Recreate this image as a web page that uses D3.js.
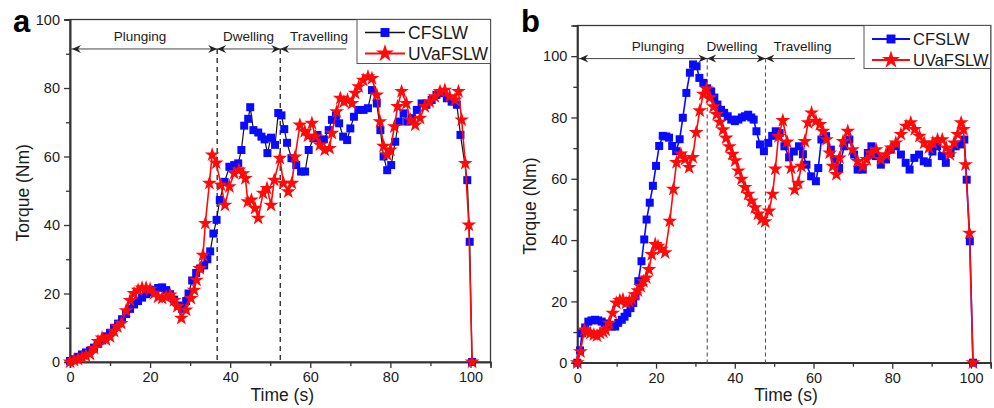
<!DOCTYPE html>
<html>
<head>
<meta charset="utf-8">
<script src="https://cdn.jsdelivr.net/npm/d3@7"></script>
<style>
  html, body { margin: 0; padding: 0; background: #fff; }
  svg { display: block; font-family: "Liberation Sans", Arial, sans-serif; }
</style>
</head>
<body>
<svg id="chart" width="994" height="408"></svg>
<script>
// ---------------- DATA ----------------
const seriesNames = ["CFSLW", "UVaFSLW"];
const phaseLabels = ["Plunging", "Dwelling", "Travelling"];
const xTicks = [0, 20, 40, 60, 80, 100];
const yTicks = [0, 20, 40, 60, 80, 100];

// Panel a
const aCfT = [0,1,2,3,4,5,6,7,8,9,10,11,12,13,14,15,16,17,18,19,20,21,22,23,24,25,26,27,28,29,29.6,30.5,31.5,32.5,33.5,34.3,35,35.8,36.6,37.4,38.6,39.8,41,42,42.8,43.5,44.5,45,45.8,47,47.8,48.6,49.3,50.2,51.2,52,52.8,53.5,54.2,55.3,56.5,57.7,58.7,59.6,60.8,61.8,62.6,63.4,64.6,65.4,66.4,67.2,68.2,69.2,70,70.9,72,73.3,74.4,75.4,76.6,77.5,78.3,79.2,80.2,81.2,82.1,83.3,84.2,85.4,86.6,87.8,89,90.3,91.5,92.8,94.1,95.3,96.6,97.5,99.2,99.8,100.4];
const aCfV = [0.3,0.8,1.5,2.2,2.8,3.3,4.2,5.3,6.3,7.5,8.5,10,11.2,12.5,14,15.5,16.8,17.8,18.8,19.8,20.3,21,21.6,21.8,21,19.8,18.2,16.5,15.5,17.8,20,23.8,26,27.3,28.2,30,32.3,37.5,41.5,47.3,52.6,57,57.5,58,61.9,69,71,74.4,67.7,67,65.8,65,61,65.5,63.4,72.7,72,68,64,59.5,57.5,55.6,55.6,61.9,65.3,66.3,64.8,65,67.7,70.7,72,69.7,65.8,64.8,68.2,71.6,73.6,73.6,74.1,79.4,75.5,67.7,60,56,57.5,64.3,70.2,72.6,70.2,71.2,73.6,75.5,75.1,76.5,78,78.5,77,76,75.1,66.3,53.1,35.1,0];
const aUvT = [0,1,2,3,4,5,6,7,8,9,10,11,11.8,12.8,14,15,16,17,18,19,20,21,22,23,24,25,26,26.8,27.8,29,30.2,31,31.6,32.4,33.2,33.8,34.8,35.5,36.5,37.7,38.7,39.8,41,42.2,43.2,43.8,44.4,45.3,46.2,47,48.2,49.2,50.2,51,52.4,53.3,54.5,55.4,56.2,57.4,58.6,59.4,60.4,61.3,62.4,63.6,64.8,65.4,66.6,67.5,68.4,69.3,70.4,71.2,72.1,73.2,74.4,75.4,76.6,77.4,78.3,79.2,80,81,81.8,82.8,84,85,86.2,87.4,88.6,89.8,91.1,92.4,93.6,94.8,96.1,97,97.8,98.7,99.6,100.4];
const aUvV = [0,0.5,0.8,1.3,1.8,2.3,4,6,7,6.5,7.4,9,10.3,11.3,15,18,20,21,21.6,21.6,21.2,20,19,18.6,19,19.6,18,16.2,12.8,15.2,18.6,21,23.9,27.3,31.2,40.5,52.2,60.5,58.1,51.7,45.8,51.2,55.1,56.1,55,53.6,46.8,47.3,44.9,42,49.3,50.7,45.8,53.1,59.5,52.2,49.7,52.2,59.9,69.2,67.3,66,69.7,65.8,63.4,61.9,62.4,66.8,73.1,77,76,76.5,75.5,78.5,80.4,82.3,83.3,82.8,78,70.2,63,60.5,61.9,68.7,74.6,79,75.5,70.7,69.2,71.2,74.6,76,77.5,79,79.4,77.5,76.5,79,70.7,58,40,0];

// Panel b
const bCfT = [0,0.7,1.2,2,2.8,3.6,4.5,5.3,6.2,7,7.9,8.7,9.6,10.4,11.3,12,12.7,13.5,14.2,14.8,15.5,16.3,17,17.6,18.4,19.2,20,20.8,21.7,22.6,23.3,24.1,25.1,26,26.8,27.7,28.6,29.4,30.3,31,32,33,34,34.8,35.6,36.5,37.3,38.2,39.1,40,40.9,41.8,42.6,43.4,44.2,44.8,45.5,46.4,47.4,48.5,49.5,50.4,51.4,52.6,53.8,55,56.3,57.3,58.2,59.4,60.6,61.2,62,63.2,64.4,65.4,66.5,67.8,69.1,70.3,71.2,72.5,73.8,74.7,75.8,77.1,78.4,79.6,80.9,82.2,83.4,84.4,85.6,86.8,88,89,90.2,91.4,92.6,93.6,94.8,96.1,97.3,98.3,98.9,99.7,100.5];
const bCfV = [0,4,9.6,11.5,13.4,13.8,14,13.8,13.4,12.8,12.3,11.8,11.8,13,14,15,16.2,17.8,19.5,21.7,26.6,33.1,40.2,46.7,52.2,57.7,64.2,70.7,74,73.8,73.4,70.7,69,72.9,79.9,88,94.6,97.3,96.7,92.9,91.3,89.5,88.5,86.5,84.2,82.5,81.5,80.4,79.3,78.8,79.3,80,80.4,80.9,80,79.3,75.5,71.2,69,71.7,74,75.5,74.9,70.6,67,68.9,70.6,68,64.6,60.8,59.2,63.5,72.8,73.9,69.5,66.3,63.5,70.6,72.8,67.9,63,63,68.4,70.6,67.4,64.6,66.3,69.5,70.6,67.9,65.2,63,66.8,67.9,65.7,65.2,68.9,70.6,67.4,65.2,68.4,70.6,71.2,72.8,59.7,39.6,0];
const bUvT = [0,0.8,1.8,2.6,3.3,4.2,5,5.8,6.6,7.2,8.1,9,9.9,10.8,11.6,12.4,13.2,13.9,14.6,15.4,16.1,16.8,17.5,18.2,18.9,19.8,20.5,21.3,22.3,23.5,24.4,25.2,26.3,27.4,28.4,29.3,30.2,31.1,32,32.8,33.7,34.6,35.4,36.2,37,37.8,38.6,39.4,40.1,40.9,41.7,42.6,43.4,44.2,45.1,45.9,46.8,47.7,48.7,49.6,50.3,51.1,52.2,53.3,54.3,55.2,56.1,56.9,57.8,58.6,59.5,60.6,61.6,62.4,63.3,64.1,64.9,65.8,66.6,67.5,68.7,69.9,71.2,72.5,73.5,74.7,75.9,77.1,78.4,79.7,80.9,82.2,83.5,84.7,85.7,86.9,88.1,89.3,90.3,91.5,92.7,93.7,94.6,95.7,96.6,97.5,98.1,98.6,99.6,100.5];
const bUvV = [0,3.6,10.7,10,9.6,9.1,8.8,9.6,10,10.7,12.9,16.2,19.5,20.3,20.6,19.5,20,20.6,22.2,23.5,24.9,26.5,27.7,30.4,35.3,38.6,38,37,35.9,46.2,56.6,65.3,68.1,66.4,63.7,67,75.1,82.2,87.6,89.3,86.5,83.5,81,78.5,76,73.3,70.5,68,65.9,62.6,59.9,57.2,55,52.8,50.6,48.5,46.8,46,49.5,55,63.2,73.8,79,72,63.5,56.4,58.6,64.1,72.2,78.3,81.5,78.8,77.7,75.5,72.8,68.4,64.1,61.4,66.8,72.2,75.5,69.5,65.7,64.1,66.3,68.4,69.5,66.3,67.9,70.1,71.7,74.5,77.2,78.3,76.1,73.9,71.7,70.1,71.7,72.8,72.8,70.1,67.9,71.7,74.5,78.3,76.1,64.6,42.3,0];

// phase boundaries (time, s), arrow level (Nm) and label anchor times
const aPhaseBounds = [0, 36.75, 52.5, 69];
const bPhaseBounds = [0, 33, 47.8, 70.5];
const aArrowLevel = 91.4, bArrowLevel = 99.2;
const aLabelT = [17.5, 44.6, 62.2];
const bLabelT = [20.5, 39.3, 57.2];

// ---------------- DRAW ----------------
const svg = d3.select("#chart");
const BLUE = "#0a0aff", RED = "#ff0a0a";
const FONT = "'Liberation Sans', Arial, sans-serif";

function arrowHead(g, x, y, dir, color) {
  const L = 9, H = 4, N = 6;
  g.append("path")
    .attr("d", `M${x},${y} L${x - dir * L},${y - H} L${x - dir * N},${y} L${x - dir * L},${y + H} Z`)
    .attr("fill", color);
}

function panel(cfg) {
  const g = svg.append("g");
  const x = d3.scaleLinear().domain([0, 105]).range([cfg.left, cfg.right]);
  const y = d3.scaleLinear().domain([0, cfg.yMax]).range([cfg.bottom, cfg.top]);

  g.append("rect").attr("x", cfg.left).attr("y", cfg.top)
    .attr("width", cfg.right - cfg.left).attr("height", cfg.bottom - cfg.top)
    .attr("fill", "none").attr("stroke", "#3a3a3a").attr("stroke-width", 1.3);

  const xMinor = d3.range(10, 101, 20);
  const yMinor = d3.range(10, cfg.yMax, 20);
  const styleAxis = sel => {
    sel.select(".domain").attr("stroke", "#333").attr("stroke-width", 1.6);
    sel.selectAll(".tick line").attr("stroke", "#333").attr("stroke-width", 1.3);
    sel.selectAll("text").attr("font-family", FONT).attr("font-size", 14.5).attr("fill", "#1a1a1a");
  };
  g.append("g").attr("transform", `translate(0,${cfg.bottom})`)
    .call(d3.axisBottom(x).tickValues(xMinor).tickSize(4).tickFormat(""))
    .call(styleAxis);
  g.append("g").attr("transform", `translate(0,${cfg.bottom})`)
    .call(d3.axisBottom(x).tickValues(xTicks).tickSize(6).tickPadding(4).tickFormat(d3.format("d")))
    .call(styleAxis);
  g.append("g").attr("transform", `translate(${cfg.left},0)`)
    .call(d3.axisLeft(y).tickValues(yMinor).tickSize(4).tickFormat(""))
    .call(styleAxis);
  g.append("g").attr("transform", `translate(${cfg.left},0)`)
    .call(d3.axisLeft(y).tickValues(yTicks).tickSize(6).tickPadding(4).tickFormat(d3.format("d")))
    .call(styleAxis);

  g.append("text").attr("x", (cfg.left + cfg.right) / 2 + 2).attr("y", 401)
    .attr("text-anchor", "middle").attr("font-family", FONT).attr("font-size", 17.5).attr("fill", "#1a1a1a")
    .text("Time (s)");
  g.append("text").attr("transform", `translate(${cfg.left - 41},${(cfg.top + cfg.bottom) / 2 + cfg.yLabelShift}) rotate(-90)`)
    .attr("text-anchor", "middle").attr("font-family", FONT).attr("font-size", 17.5).attr("fill", "#1a1a1a")
    .text("Torque (Nm)");

  g.append("text").attr("x", cfg.letterX).attr("y", 32)
    .attr("font-family", FONT).attr("font-weight", "bold").attr("font-size", 31).attr("fill", "#000")
    .text(cfg.letter);

  const ay = y(cfg.arrowLevel);
  const pb = cfg.bounds;
  g.append("line").attr("x1", x(pb[0])).attr("x2", x(pb[3])).attr("y1", ay).attr("y2", ay)
    .attr("stroke", "#444").attr("stroke-width", 1);
  [pb[1], pb[2]].forEach(t => {
    g.append("line").attr("x1", x(t)).attr("x2", x(t)).attr("y1", ay).attr("y2", cfg.bottom)
      .attr("stroke", cfg.dashColor).attr("stroke-width", cfg.dashWidth).attr("stroke-dasharray", cfg.dash);
  });
  arrowHead(g, x(pb[0]) + 2, ay, -1, "#222");
  arrowHead(g, x(pb[1]), ay, 1, "#222");
  arrowHead(g, x(pb[1]), ay, -1, "#222");
  arrowHead(g, x(pb[2]), ay, 1, "#222");
  arrowHead(g, x(pb[2]), ay, -1, "#222");
  phaseLabels.forEach((lab, i) => {
    g.append("text").attr("x", x(cfg.labelT[i])).attr("y", ay - 8)
      .attr("text-anchor", "middle").attr("font-family", FONT).attr("font-size", 13.5).attr("fill", "#1a1a1a")
      .text(lab);
  });

  const sq = d3.symbol().type(d3.symbolSquare).size(64);
  const st = d3.symbol().type(d3.symbolStar).size(68);
  const series = [
    { T: cfg.cfT, V: cfg.cfV, line: cfg.cfLine, lw: cfg.cfLw, sym: sq, fill: BLUE },
    { T: cfg.uvT, V: cfg.uvV, line: RED, lw: 1.6, sym: st, fill: RED }
  ];
  series.forEach(s => {
    const pts = s.T.map((t, i) => [t, s.V[i]]);
    g.append("path").datum(pts)
      .attr("d", d3.line().x(d => x(d[0])).y(d => y(d[1])))
      .attr("fill", "none").attr("stroke", s.line).attr("stroke-width", s.lw);
    g.append("g").selectAll("path").data(pts).join("path")
      .attr("d", s.sym)
      .attr("transform", d => `translate(${x(d[0])},${y(d[1])})`)
      .attr("fill", s.fill);
  });

  const lg = g.append("g");
  lg.append("rect").attr("x", cfg.legX).attr("y", cfg.top)
    .attr("width", cfg.right - cfg.legX).attr("height", cfg.legH)
    .attr("fill", "#fff").attr("stroke", "#555").attr("stroke-width", 1);
  series.forEach((s, i) => {
    const ly = cfg.top + cfg.legRow0 + i * 21;
    const x0 = cfg.legX + 8, x1 = cfg.legX + cfg.legLineW + 8;
    lg.append("line").attr("x1", x0).attr("x2", x1).attr("y1", ly).attr("y2", ly)
      .attr("stroke", s.line).attr("stroke-width", s.lw + 0.4);
    lg.append("path").attr("d", i === 0 ? d3.symbol().type(d3.symbolSquare).size(80)() : d3.symbol().type(d3.symbolStar).size(100)())
      .attr("transform", `translate(${(x0 + x1) / 2},${ly})`).attr("fill", s.fill);
    lg.append("text").attr("x", x1 + 3).attr("y", ly + 6)
      .attr("font-family", FONT).attr("font-size", cfg.legFont).attr("fill", "#1a1a1a")
      .text(seriesNames[i]);
  });
}

panel({
  letter: "a", letterX: 13, left: 70, right: 490.5, top: 19.5, bottom: 362, yMax: 100, yLabelShift: 2,
  cfT: aCfT, cfV: aCfV, uvT: aUvT, uvV: aUvV, cfLine: "#111", cfLw: 1.2,
  bounds: aPhaseBounds, arrowLevel: aArrowLevel, labelT: aLabelT,
  dashColor: "#222", dashWidth: 1.3, dash: "5,4",
  legX: 357, legH: 44, legRow0: 13, legLineW: 40, legFont: 17.5
});
panel({
  letter: "b", letterX: 521, left: 577.3, right: 990.7, top: 25.5, bottom: 362.7, yMax: 110, yLabelShift: 12,
  cfT: bCfT, cfV: bCfV, uvT: bUvT, uvV: bUvV, cfLine: BLUE, cfLw: 1.6,
  bounds: bPhaseBounds, arrowLevel: bArrowLevel, labelT: bLabelT,
  dashColor: "#555", dashWidth: 1.1, dash: "4,3",
  legX: 864, legH: 43, legRow0: 13.5, legLineW: 38, legFont: 16.5
});
</script>
</body>
</html>
